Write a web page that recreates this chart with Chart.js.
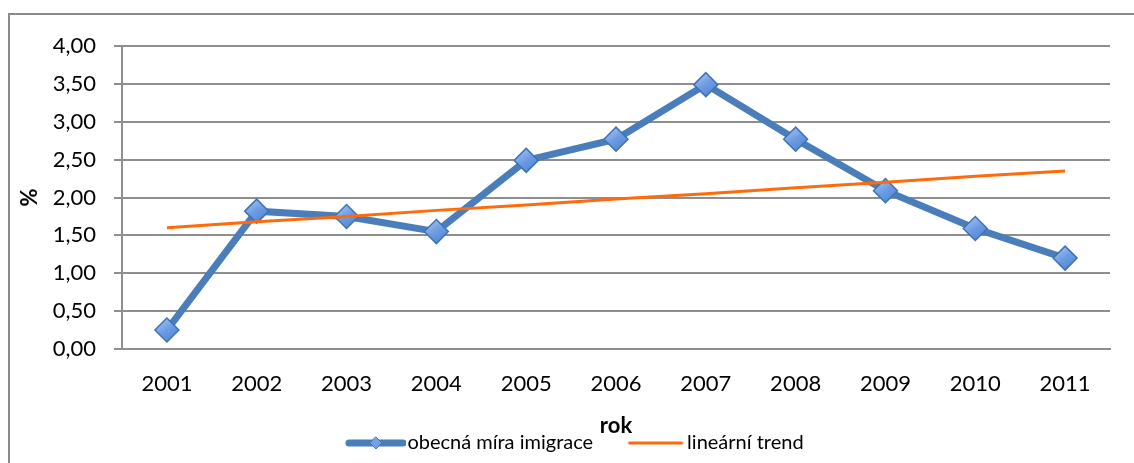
<!DOCTYPE html>
<html>
<head>
<meta charset="utf-8">
<script src="https://cdn.jsdelivr.net/npm/chart.js@4/dist/chart.umd.min.js"></script>
<style>
  html, body { margin: 0; padding: 0; background: #fff; }
  #wrap { position: relative; width: 1134px; height: 463px; overflow: hidden; }
  #frame { position: absolute; left: 8px; top: 13px; width: 1200px; height: 600px;
           border-left: 2px solid #8a8a8a; border-top: 2px solid #8a8a8a; box-sizing: border-box; }
  #c { position: absolute; left: 0; top: 0; }
</style>
</head>
<body>
<div id="wrap">
  <div id="frame"></div>
  <canvas id="c" width="1134" height="463"></canvas>
</div>
<script>
const years = ['2001', '2002', '2003', '2004', '2005', '2006', '2007', '2008', '2009', '2010', '2011'];
const immigrationRate = [0.25, 1.82, 1.75, 1.55, 2.49, 2.77, 3.49, 2.77, 2.09, 1.59, 1.20];
const linearTrend = [1.60, 1.68, 1.75, 1.83, 1.90, 1.98, 2.05, 2.13, 2.20, 2.28, 2.35];
const yTickLabels = ['0,00', '0,50', '1,00', '1,50', '2,00', '2,50', '3,00', '3,50', '4,00'];
const seriesNames = ['obecná míra imigrace', 'lineární trend'];
const axisTitles = { x: 'rok', y: '%' };

const BLUE = '#4a7ebb';
const ORANGE = '#ff6a0a';
const GRID = '#8e8e8e';
const FONT = 'Lato, "Open Sans", "Liberation Sans", sans-serif';

function legendLine(w, h, x0, x1, color, lw, diamond) {
  const cv = document.createElement('canvas');
  cv.width = w; cv.height = h;
  const g = cv.getContext('2d');
  g.strokeStyle = color; g.lineWidth = lw; g.lineCap = 'round';
  g.beginPath(); g.moveTo(x0, h / 2); g.lineTo(x1, h / 2); g.stroke();
  if (diamond) {
    const cx = (x0 + x1) / 2, cy = h / 2, r = 6;
    g.beginPath();
    g.moveTo(cx, cy - r); g.lineTo(cx + r, cy); g.lineTo(cx, cy + r); g.lineTo(cx - r, cy); g.closePath();
    g.fillStyle = '#74a2e4'; g.fill();
    g.strokeStyle = '#3f72b5'; g.lineWidth = 1; g.stroke();
  }
  return cv;
}
const legendImgs = [
  legendLine(98, 20, 41, 95, BLUE, 7, true),
  legendLine(94, 20, 40, 92, ORANGE, 3, false)
];

function diamondFill(c) {
  if (c.type !== 'data') return '#6f9fe3';
  const ch = c.chart;
  const x = ch.scales.x.getPixelForValue(c.dataIndex);
  const y = ch.scales.y.getPixelForValue(c.parsed.y);
  if (!isFinite(x) || !isFinite(y)) return '#6f9fe3';
  const g = ch.ctx.createLinearGradient(x - 8, y - 12, x + 8, y + 12);
  g.addColorStop(0, '#a6c6f4');
  g.addColorStop(0.5, '#6b9be2');
  g.addColorStop(1, '#4f83d2');
  return g;
}

const ctx = document.getElementById('c').getContext('2d');
new Chart(ctx, {
  type: 'line',
  data: {
    labels: years,
    datasets: [
      {
        label: seriesNames[0],
        data: immigrationRate,
        borderColor: BLUE,
        borderWidth: 7,
        pointStyle: 'rectRot',
        pointRadius: 12,
        pointBackgroundColor: diamondFill,
        pointBorderColor: '#3f72b5',
        pointBorderWidth: 1.5,
        tension: 0,
        order: 2
      },
      {
        label: seriesNames[1],
        data: linearTrend,
        borderColor: ORANGE,
        borderWidth: 3,
        pointRadius: 0,
        tension: 0,
        order: 1
      }
    ]
  },
  options: {
    responsive: false,
    animation: false,
    events: [],
    layout: { padding: { left: 10, right: 24, top: 46, bottom: 0 } },
    plugins: {
      tooltip: { enabled: false },
      legend: {
        position: 'bottom',
        labels: {
          usePointStyle: true,
          pointStyleWidth: 81,
          padding: 3,
          color: '#000',
          font: { family: FONT, size: 20 },
          sort: (a, b) => a.datasetIndex - b.datasetIndex,
          generateLabels(chart) {
            const items = Chart.defaults.plugins.legend.labels.generateLabels(chart);
            items.forEach(it => { it.pointStyle = legendImgs[it.datasetIndex]; });
            return items;
          }
        }
      }
    },
    scales: {
      x: {
        offset: true,
        grid: { display: false, drawTicks: false },
        border: { display: true, color: GRID, width: 2 },
        ticks: { color: '#000', padding: 22, maxRotation: 0, font: { family: FONT, size: 22 } },
        title: {
          display: true, text: axisTitles.x, color: '#000',
          font: { family: FONT, size: 22, weight: 'bold', lineHeight: 1 },
          padding: { top: 0, bottom: -7 }
        },
        afterFit(scale) { scale.height = 81; }
      },
      y: {
        min: 0, max: 4,
        ticks: {
          stepSize: 0.5, color: '#000', padding: 18,
          font: { family: FONT, size: 22 },
          callback: (v, i) => yTickLabels[i]
        },
        grid: { color: GRID, lineWidth: 2, tickLength: 8, drawTicks: true },
        border: { display: true, color: GRID, width: 2 },
        title: {
          display: true, text: axisTitles.y, color: '#000',
          font: { family: FONT, size: 22, weight: 'bold' },
          padding: { top: 7, bottom: 0 }
        },
        afterFit(scale) { scale.width = 112; }
      }
    }
  }
});
</script>
</body>
</html>
